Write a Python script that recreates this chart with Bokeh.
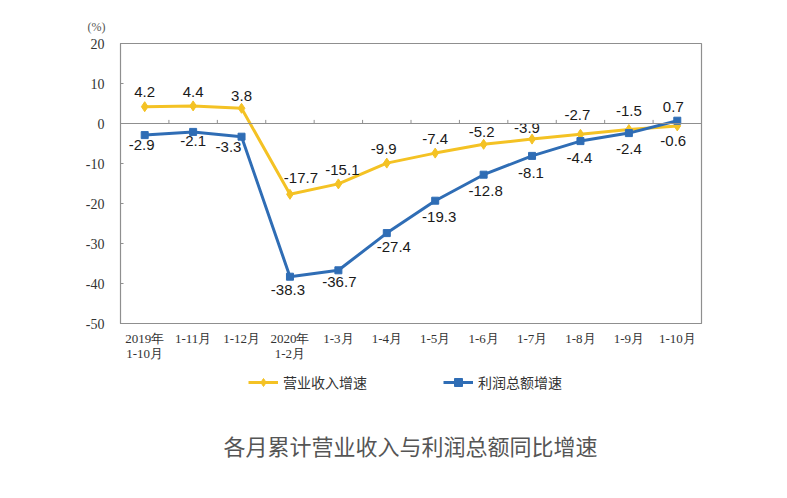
from bokeh.plotting import figure
from bokeh.layouts import column
from bokeh.models import (Range1d, FixedTicker, Legend, LegendItem, Title, Label, Span, ColumnDataSource)
from bokeh.embed import file_html
from bokeh.resources import INLINE

categories = ["2019年\n1-10月", "1-11月", "1-12月", "2020年\n1-2月", "1-3月", "1-4月",
              "1-5月", "1-6月", "1-7月", "1-8月", "1-9月", "1-10月"]
revenue = [4.2, 4.4, 3.8, -17.7, -15.1, -9.9, -7.4, -5.2, -3.9, -2.7, -1.5, -0.6]
profit = [-2.9, -2.1, -3.3, -38.3, -36.7, -27.4, -19.3, -12.8, -8.1, -4.4, -2.4, 0.7]
y_ticks = [-50, -40, -30, -20, -10, 0, 10, 20]
y_tick_labels = ["-50", "-40", "-30", "-20", "-10", "0", "10", "20"]
series_names = ["营业收入增速", "利润总额增速"]
title_text = "各月累计营业收入与利润总额同比增速"
unit_text = "(%)"

# label placement (pixel offsets of label centre from point)
rev_dx = [0, 0, 0, 11, 4, -3, 0, -2, -5, -3, 0, -4]
rev_dy = [-15, -14, -12, -16, -14, -14, -14, -12, -11, -19, -19, 15]
pro_dx = [-3, 0, -13, -2, 1, 7, 4, 2, -1, -1, 0, -4]
pro_dy = [10, 9, 10, 13, 12, 14, 16, 16, 17, 17, 16, -14]

YELLOW = "#F4C224"
BLUE = "#2F6DB5"
GRID = "#8f8f8f"

n = len(categories)
xs = [i + 0.5 for i in range(n)]

p = figure(width=771, height=370, output_backend="svg", toolbar_location=None,
           x_range=Range1d(0, n), y_range=Range1d(-50, 20),
           min_border_left=120, min_border_top=43, min_border_right=70, min_border_bottom=47)
p.background_fill_color = "white"
p.border_fill_color = "white"
p.outline_line_color = GRID
p.outline_line_width = 1.2
p.xgrid.visible = False
p.ygrid.visible = False

# axes
p.yaxis.ticker = FixedTicker(ticks=y_ticks)
p.yaxis.major_label_overrides = {t: s for t, s in zip(y_ticks, y_tick_labels)}
p.yaxis.major_tick_in = 3
p.yaxis.major_tick_out = 0
p.yaxis.minor_tick_line_color = None
p.yaxis.axis_line_color = GRID
p.yaxis.major_tick_line_color = GRID
p.yaxis.major_label_text_font = "Liberation Serif"
p.yaxis.major_label_text_font_size = "14px"
p.yaxis.major_label_text_color = "#333333"
p.yaxis.major_label_standoff = 16

p.xaxis.ticker = FixedTicker(ticks=xs)
p.xaxis.major_label_overrides = {x: c for x, c in zip(xs, categories)}
p.xaxis.major_tick_line_color = None
p.xaxis.minor_tick_line_color = None
p.xaxis.axis_line_color = GRID
p.xaxis.major_label_text_font = "Liberation Serif"
p.xaxis.major_label_text_font_size = "13px"
p.xaxis.major_label_text_line_height = 1.0
p.xaxis.major_label_text_color = "#333333"
p.xaxis.major_label_standoff = 1

# zero line with upward category ticks
p.add_layout(Span(location=0, dimension="width", line_color=GRID, line_width=1.2))
bounds = list(range(1, n))
p.segment(x0=bounds, y0=[0] * len(bounds), x1=bounds, y1=[0.9] * len(bounds),
          line_color=GRID, line_width=1)

# series
src = ColumnDataSource(dict(x=xs, rev=revenue, pro=profit,
                            rev_lbl=[f"{v:.1f}" for v in revenue],
                            pro_lbl=[f"{v:.1f}" for v in profit],
                            rdx=rev_dx, rdy=rev_dy, pdx=pro_dx, pdy=pro_dy))
p.line("x", "rev", source=src, line_color=YELLOW, line_width=3)
p.scatter("x", "rev", source=src, marker="diamond", size=10, color=YELLOW)
p.line("x", "pro", source=src, line_color=BLUE, line_width=3)
p.scatter("x", "pro", source=src, marker="square", size=7, color=BLUE)

p.text("x", "rev", text="rev_lbl", source=src, x_offset="rdx", y_offset="rdy",
       text_align="center", text_baseline="middle", text_font_size="15px",
       text_font={"value": "Liberation Sans"}, text_color="#1a1a1a")
p.text("x", "pro", text="pro_lbl", source=src, x_offset="pdx", y_offset="pdy",
       text_align="center", text_baseline="middle", text_font_size="15px",
       text_font={"value": "Liberation Sans"}, text_color="#1a1a1a")

# unit label above the y axis
p.add_layout(Title(text=unit_text, align="left", offset=-33, standoff=20,
                   text_font="Liberation Serif", text_font_size="12px",
                   text_font_style="normal", text_color="#555555"), "above")

# ---- lower panel: legend + caption (series drawn out of view, used for legend samples) ----
p2 = figure(width=771, height=112, output_backend="svg", toolbar_location=None,
            x_axis_location=None, y_axis_location=None,
            x_range=Range1d(0, n), y_range=Range1d(100, 101),
            min_border=0)
p2.outline_line_color = None
p2.xgrid.visible = False
p2.ygrid.visible = False
l1 = p2.line("x", "rev", source=src, line_color=YELLOW, line_width=3)
m1 = p2.scatter("x", "rev", source=src, marker="diamond", size=10, color=YELLOW)
l2 = p2.line("x", "pro", source=src, line_color=BLUE, line_width=3)
m2 = p2.scatter("x", "pro", source=src, marker="square", size=7, color=BLUE)

legend = Legend(items=[LegendItem(label=series_names[0], renderers=[l1, m1]),
                       LegendItem(label=series_names[1], renderers=[l2, m2])],
                orientation="horizontal", location=(128, 90),
                border_line_color=None, background_fill_alpha=0,
                label_text_font="Noto Sans CJK SC", label_text_font_size="14px",
                label_text_color="#333333", glyph_width=30, spacing=76,
                label_standoff=5, margin=0, padding=2)
p2.add_layout(legend)

p2.add_layout(Label(x=290, y=38, x_units="screen", y_units="screen", text=title_text,
                    text_align="center", text_baseline="middle",
                    text_font="Noto Sans CJK SC", text_font_size="22px",
                    text_color="#555555"))

layout = column(p, p2, spacing=0)
open("out.html", "w").write(file_html(layout, INLINE))
